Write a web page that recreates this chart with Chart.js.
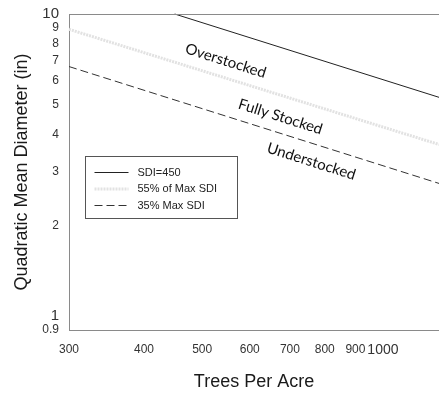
<!DOCTYPE html>
<html>
<head>
<meta charset="utf-8">
<script src="https://cdn.jsdelivr.net/npm/chart.js@4/dist/chart.umd.min.js"></script>
<style>
  html, body { margin: 0; padding: 0; background: #fff; overflow: hidden; }
  #wrap { width: 439px; height: 394px; }
</style>
</head>
<body>
<div id="wrap"><canvas id="chart" width="439" height="394"></canvas></div>
<script>
// data (trees per acre vs QMD, log-log)
const sdiTpa = [450, 1240];
const sdiQmd = [10, 5.3];
const fullTpa = [300, 1240];
const fullQmd = [8.9, 3.7];
const underTpa = [300, 1240];
const underQmd = [6.7, 2.75];

const xTicks = [300, 400, 500, 600, 700, 800, 900, 1000];
const yTicks = [0.9, 1, 2, 3, 4, 5, 6, 7, 8, 9, 10];

const seriesNames = ['SDI=450', '55% of Max SDI', '35% Max SDI'];

// zone labels, placed in data units
const zoneLabels = ['Overstocked', 'Fully Stocked', 'Understocked'];
const zoneTpa = [547, 675, 760];
const zoneQmd = [7.0, 4.57, 3.25];

function pts(xs, ys) {
  return xs.map((x, i) => ({ x: x, y: ys[i] }));
}

const lineStyles = [
  { color: '#222', width: 1, dash: [] },
  { color: '#e2e2e2', width: 3, dash: [2, 1] },
  { color: '#333', width: 1, dash: [8, 4] }
];

// legend box + zone text + top border
const extras = {
  id: 'extras',
  afterDraw(chart) {
    const c = chart.ctx;
    const a = chart.chartArea;
    const xs = chart.scales.x, ys = chart.scales.y;

    c.save();
    // top border
    c.strokeStyle = '#8a8a8a';
    c.lineWidth = 1;
    c.beginPath();
    c.moveTo(a.left, a.top + 0.5);
    c.lineTo(a.right, a.top + 0.5);
    c.stroke();

    // zone text along the line slope
    const dx = xs.getPixelForValue(sdiTpa[1]) - xs.getPixelForValue(sdiTpa[0]);
    const dy = ys.getPixelForValue(sdiQmd[1]) - ys.getPixelForValue(sdiQmd[0]);
    const ang = Math.atan2(dy, dx);
    c.fillStyle = '#111';
    c.font = '15px Lato';
    c.textAlign = 'center';
    c.textBaseline = 'middle';
    zoneLabels.forEach((t, i) => {
      c.save();
      c.translate(xs.getPixelForValue(zoneTpa[i]), ys.getPixelForValue(zoneQmd[i]));
      c.rotate(ang);
      c.fillText(t, 0, 0);
      c.restore();
    });

    // legend
    const bx = 85.5, by = 156.5, bw = 152, bh = 62;
    c.strokeStyle = '#555';
    c.lineWidth = 1;
    c.strokeRect(bx, by, bw, bh);
    c.font = '11px Arial';
    c.textAlign = 'left';
    c.fillStyle = '#222';
    seriesNames.forEach((n, i) => {
      const yy = by + 16 + i * 16.5;
      const st = lineStyles[i];
      c.strokeStyle = st.color;
      c.lineWidth = st.width;
      c.setLineDash(st.dash);
      c.beginPath();
      c.moveTo(bx + 9, yy);
      c.lineTo(bx + 43, yy);
      c.stroke();
      c.setLineDash([]);
      c.fillText(n, bx + 52, yy);
    });
    c.restore();
  }
};

new Chart(document.getElementById('chart'), {
  type: 'line',
  data: {
    datasets: [
      { label: seriesNames[0], data: pts(sdiTpa, sdiQmd) },
      { label: seriesNames[1], data: pts(fullTpa, fullQmd) },
      { label: seriesNames[2], data: pts(underTpa, underQmd) }
    ].map((d, i) => Object.assign(d, {
      borderColor: lineStyles[i].color,
      borderWidth: lineStyles[i].width,
      borderDash: lineStyles[i].dash,
      pointRadius: 0,
      fill: false,
      tension: 0
    }))
  },
  options: {
    responsive: false,
    animation: false,
    clip: false,
    layout: { padding: { top: 13, right: 0, left: 0, bottom: 0 } },
    plugins: { legend: { display: false }, tooltip: { enabled: false } },
    scales: {
      x: {
        type: 'logarithmic',
        min: 300,
        max: 1240,
        afterBuildTicks: s => { s.ticks = xTicks.map(v => ({ value: v })); },
        afterFit: s => { s.height = 64; },
        grid: { display: false, drawTicks: true, tickLength: 4, tickColor: '#8a8a8a' },
        border: { color: '#8a8a8a', width: 1 },
        ticks: {
          autoSkip: false,
          maxRotation: 0,
          padding: 8,
          color: '#333',
          font: ctx => ({ family: 'Arial', size: ctx.tick && ctx.tick.value === 1000 ? 14 : 12 }),
          callback: v => String(v)
        },
        title: {
          display: true,
          text: 'Trees Per Acre',
          color: '#1a1a1a',
          font: { family: 'Arial', size: 18 },
          padding: { top: 0, bottom: 1 }
        }
      },
      y: {
        type: 'logarithmic',
        min: 0.9,
        max: 10,
        afterBuildTicks: s => { s.ticks = yTicks.map(v => ({ value: v })); },
        afterFit: s => { s.width = 69; },
        grid: { display: false, drawTicks: true, tickLength: 5, tickColor: '#8a8a8a' },
        border: { color: '#8a8a8a', width: 1 },
        ticks: {
          autoSkip: false,
          padding: 5,
          color: '#333',
          font: ctx => ({ family: 'Arial', size: ctx.tick && (ctx.tick.value === 1 || ctx.tick.value === 10) ? 15 : 12 }),
          callback: v => String(v)
        },
        title: {
          display: true,
          text: 'Quadratic Mean Diameter (in)',
          color: '#1a1a1a',
          font: { family: 'Arial', size: 18 },
          padding: { top: 11, bottom: 0 }
        }
      }
    }
  },
  plugins: [extras]
});
</script>
</body>
</html>
